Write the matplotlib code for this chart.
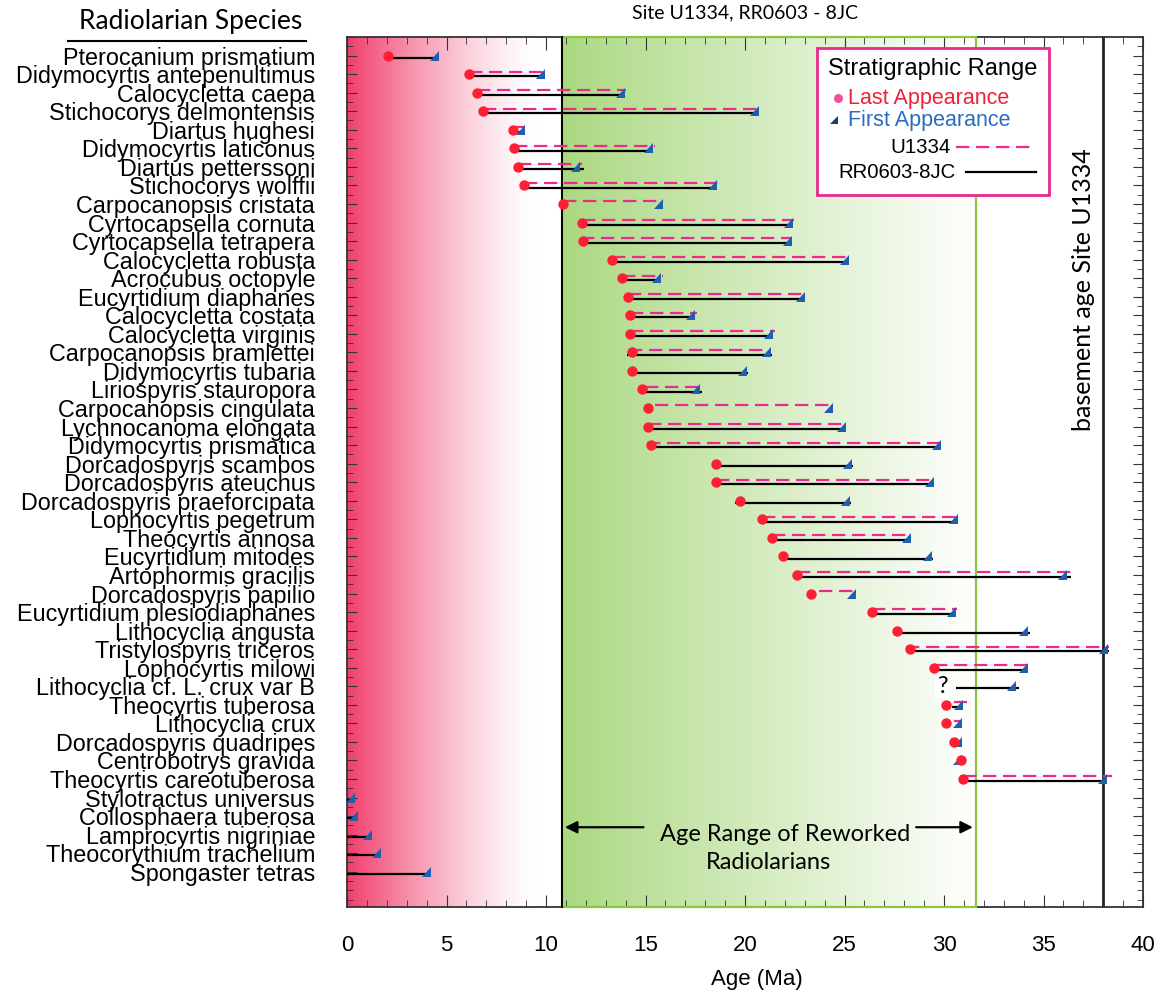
import numpy as np
import matplotlib
matplotlib.use('Agg')
import matplotlib.pyplot as plt
from matplotlib.path import Path
from matplotlib.patches import Rectangle
from matplotlib.lines import Line2D

nan = np.nan

species = [
    'Pterocanium prismatium', 'Didymocyrtis antepenultimus', 'Calocycletta caepa',
    'Stichocorys delmontensis', 'Diartus hughesi', 'Didymocyrtis laticonus',
    'Diartus petterssoni', 'Stichocorys wolffii', 'Carpocanopsis cristata',
    'Cyrtocapsella cornuta', 'Cyrtocapsella tetrapera', 'Calocycletta robusta',
    'Acrocubus octopyle', 'Eucyrtidium diaphanes', 'Calocycletta costata',
    'Calocycletta virginis', 'Carpocanopsis bramlettei', 'Didymocyrtis tubaria',
    'Liriospyris stauropora', 'Carpocanopsis cingulata', 'Lychnocanoma elongata',
    'Didymocyrtis prismatica', 'Dorcadospyris scambos', 'Dorcadospyris ateuchus',
    'Dorcadospyris praeforcipata', 'Lophocyrtis pegetrum', 'Theocyrtis annosa',
    'Eucyrtidium mitodes', 'Artophormis gracilis', 'Dorcadospyris papilio',
    'Eucyrtidium plesiodiaphanes', 'Lithocyclia angusta', 'Tristylospyris triceros',
    'Lophocyrtis milowi', 'Lithocyclia cf. L. crux var B', 'Theocyrtis tuberosa',
    'Lithocyclia crux', 'Dorcadospyris quadripes', 'Centrobotrys gravida',
    'Theocyrtis careotuberosa', 'Stylotractus universus', 'Collosphaera tuberosa',
    'Lamprocyrtis nigriniae', 'Theocorythium trachelium', 'Spongaster tetras',
]

# last appearance (dot) and first appearance (triangle), Ma
last_app = [2.06, 6.13, 6.52, 6.85, 8.34, 8.41, 8.61, 8.89, 10.87, 11.83,
            11.88, 13.3, 13.84, 14.1, 14.2, 14.2, 14.3, 14.34, 14.8, 15.11,
            15.14, 15.26, 18.53, 18.53, 19.75, 20.87, 21.37, 21.93, 22.6, 23.3,
            26.4, 27.65, 28.29, 29.5, nan, 30.12, 30.12, 30.5, 30.84, 30.95,
            nan, nan, nan, nan, nan]
first_app = [4.62, 9.95, 13.95, 20.7, 8.93, 15.4, 11.7, 18.6, 15.88, 22.4,
             22.35, 25.25, 15.8, 23.0, 17.5, 21.4, 21.3, 20.1, 17.75, 24.42,
             25.1, 29.85, 25.4, 29.5, 25.3, 30.7, 28.35, 29.4, 36.2, 25.6,
             30.6, 34.2, 38.25, 34.2, 33.6, 30.95, 30.92, 30.89, 30.92, 38.2,
             0.4, 0.57, 1.24, 1.69, 4.2]

# U1334 ranges (dashed)
u_top = [nan, 6.13, 6.52, 6.85, 8.34, 8.41, 8.61, 8.89, 10.87, 11.83,
         11.74, 13.3, 13.84, 14.1, 14.2, 14.2, 14.17, nan, 14.97, 15.5,
         15.14, 15.09, nan, 18.53, nan, 20.87, 21.34, nan, 22.6, 23.7,
         26.4, nan, 28.07, 29.5, nan, 30.5, 30.5, nan, nan, 30.95,
         nan, nan, nan, nan, nan]
u_base = [nan, 10.05, 14.0, 20.74, 8.95, 15.48, 11.83, 18.66, 15.88, 22.46,
          22.38, 25.31, 15.9, 23.05, 17.6, 21.49, 21.04, nan, 17.72, 24.42,
          25.14, 29.92, nan, 29.58, nan, 30.77, 28.37, nan, 36.6, 25.6,
          30.67, nan, 38.29, 34.24, nan, 31.17, 30.92, nan, nan, 38.43,
          nan, nan, nan, nan, nan]

# RR0603-8JC ranges (solid)
rr_top = [2.06, 6.13, 6.52, 6.85, 8.34, 8.41, 8.61, 8.73, nan, 11.83,
          11.68, 13.3, 13.84, 14.1, 14.2, 14.2, 14.09, 14.34, 14.8, nan,
          15.14, 15.26, 18.53, 18.53, 19.5, 20.87, 21.37, 21.93, 22.6, nan,
          26.4, 27.65, 28.29, 29.5, 30.58, 30.42, nan, 30.5, nan, 30.95,
          0, 0, 0, 0, 0]
rr_base = [4.62, 9.9, 13.85, 20.57, 8.9, 15.31, 11.91, 18.44, nan, 22.38,
           22.1, 25.14, 15.68, 22.88, 17.44, 21.29, 21.37, 20.15, 17.82, nan,
           25.06, 29.75, 25.43, 29.33, 25.31, 30.67, 28.32, 29.46, 36.4, nan,
           30.59, 34.3, 38.29, 34.14, 33.77, 30.92, nan, 30.89, nan, 38.2,
           0.4, 0.57, 1.24, 1.69, 4.2]

reworked = (10.78, 31.59)
basement_age = 38.0

PINK = '#ec2a8e'
RED = '#ff1f35'
BLUE = '#1f5fae'
SANS = 'Liberation Sans'
MYRIAD = 'Lato'

tri = Path([(-2, -1), (0, -1), (0, 1), (-2, -1)],
           [Path.MOVETO, Path.LINETO, Path.LINETO, Path.CLOSEPOLY])

fig = plt.figure(figsize=(11.63, 9.92), dpi=100)
ax = fig.add_axes([347 / 1163, 1 - 907 / 992, 796 / 1163, 870 / 992])
y0, y1 = 45.9, -1.0
ax.set_xlim(0, 40)
ax.set_ylim(y0, y1)

# pink gradient (young end)
xs = np.linspace(0, reworked[0], 400)
w = (1 - np.clip(xs / 9.6, 0, 1)) ** 1.4
pink = np.array([240, 62, 108]) / 255
img = 1 - (1 - pink)[None, :] * w[:, None]
ax.imshow(img[None], extent=[0, reworked[0], y0, y1], aspect='auto',
          interpolation='bilinear', zorder=0)

# green gradient (reworked range)
xs = np.linspace(0, 1, 400)
green = np.array([170, 216, 128]) / 255
img = green[None, :] + (1 - green)[None, :] * (xs ** 0.95)[:, None]
ax.imshow(img[None], extent=[reworked[0], reworked[1], y0, y1], aspect='auto',
          interpolation='bilinear', zorder=0)
ax.add_patch(Rectangle((reworked[0], y1), reworked[1] - reworked[0], y0 - y1,
                       fill=False, ec='#8cc63f', lw=1.6, zorder=2.6, clip_on=False))
ax.plot([reworked[0]] * 2, [y0, y1], color='black', lw=1.4, zorder=2.7, clip_on=False)
ax.plot([basement_age] * 2, [y0, y1], color='#222222', lw=2, zorder=2.7)

rows = np.arange(len(species))
for i in rows:
    if not np.isnan(u_top[i]):
        ax.plot([u_top[i], u_base[i]], [i - 0.14] * 2, color=PINK, lw=1.6,
                dashes=(6, 3), zorder=3)
    if not np.isnan(rr_top[i]):
        ax.plot([rr_top[i], rr_base[i]], [i + 0.12] * 2, color='black', lw=1.6,
                zorder=3, solid_capstyle='butt')

ax.plot(first_app, rows, ls='none', marker=tri, ms=13, color=BLUE, mew=0, zorder=4)
ax.plot(last_app, rows, ls='none', marker='o', ms=7.5, color=RED, mew=0, zorder=5)
ax.text(29.9, 34, '?', fontsize=17, family=MYRIAD, ha='center', va='center',
        bbox=dict(fc='white', ec='none', pad=1), zorder=4)

# axes, ticks
ax.set_yticks(rows)
ax.set_yticklabels(species, fontsize=16.8, family=SANS)
ax.set_yticks(np.arange(-1, 46, 0.5), minor=True)
ax.set_xticks(range(0, 41, 5))
ax.set_xticks(range(0, 41), minor=True)
for lab in ax.get_xticklabels():
    lab.set_family(SANS)
ax.tick_params(axis='both', which='both', direction='in', top=True, right=True,
               color='#333333', labelsize=16)
ax.tick_params(axis='y', which='major', length=7, pad=23, labelsize=16.8)
ax.tick_params(axis='y', which='minor', length=4)
ax.tick_params(axis='x', which='major', length=9, pad=20)
ax.tick_params(axis='x', which='minor', length=5)
for sp in ax.spines.values():
    sp.set_color('#333333')
    sp.set_linewidth(1.3)

# reworked range annotation
arrow = dict(arrowstyle='-|>', color='black', lw=1.6, mutation_scale=18,
             shrinkA=0, shrinkB=0)
ax.annotate('', xy=(10.95, 41.6), xytext=(14.9, 41.6), arrowprops=arrow)
ax.annotate('', xy=(31.45, 41.6), xytext=(28.6, 41.6), arrowprops=arrow)
ax.text(22.0, 42.0, 'Age Range of Reworked', fontsize=17, family=MYRIAD,
        ha='center', va='center')
ax.text(21.2, 43.5, 'Radiolarians', fontsize=17, family=MYRIAD,
        ha='center', va='center')
ax.text(37.0, 12.6, 'basement age Site U1334', rotation=90, fontsize=18,
        family=MYRIAD, ha='center', va='center')

# legend box
ax.add_patch(Rectangle((23.6, -0.43), 11.7, 7.93, fc='white', ec='#e8288f',
                       lw=2, zorder=6))
ax.text(29.45, 0.75, 'Stratigraphic Range', fontsize=17, family=SANS,
        ha='center', va='center', zorder=7)
ax.plot([24.65], [2.3], 'o', ms=6.5, color='#f0509a', mew=0, zorder=7)
ax.text(25.2, 2.3, 'Last Appearance', fontsize=15.5, family=SANS, color='#f0203a',
        ha='left', va='center', zorder=7)
ax.plot([24.65], [3.5], ls='none', marker=tri, ms=11, color='#1d3c6e', mew=0, zorder=7)
ax.text(25.2, 3.5, 'First Appearance', fontsize=15.5, family=SANS, color='#2a6cc0',
        ha='left', va='center', zorder=7)
ax.text(30.35, 4.95, 'U1334', fontsize=14.7, family=SANS, ha='right', va='center',
        zorder=7)
ax.plot([30.6, 34.4], [4.95] * 2, color=PINK, lw=1.6, dashes=(6, 3), zorder=7)
ax.text(30.6, 6.3, 'RR0603-8JC', fontsize=14.7, family=SANS, ha='right',
        va='center', zorder=7)
ax.plot([31.1, 34.6], [6.3] * 2, color='black', lw=1.6, zorder=7)

# figure level text
fig.text(745 / 1163, 1 - 13 / 992, 'Site U1334, RR0603 - 8JC', fontsize=14,
         family=MYRIAD, ha='center', va='center')
fig.text(191 / 1163, 1 - 22 / 992, 'Radiolarian Species', fontsize=19,
         family=MYRIAD, ha='center', va='center')
fig.add_artist(Line2D([68 / 1163, 306 / 1163], [1 - 41 / 992] * 2,
                      color='black', lw=1.5))
fig.text(757 / 1163, 1 - 980 / 992, 'Age (Ma)', fontsize=16, family=SANS,
         ha='center', va='center')

fig.savefig('out.png', dpi=100)
